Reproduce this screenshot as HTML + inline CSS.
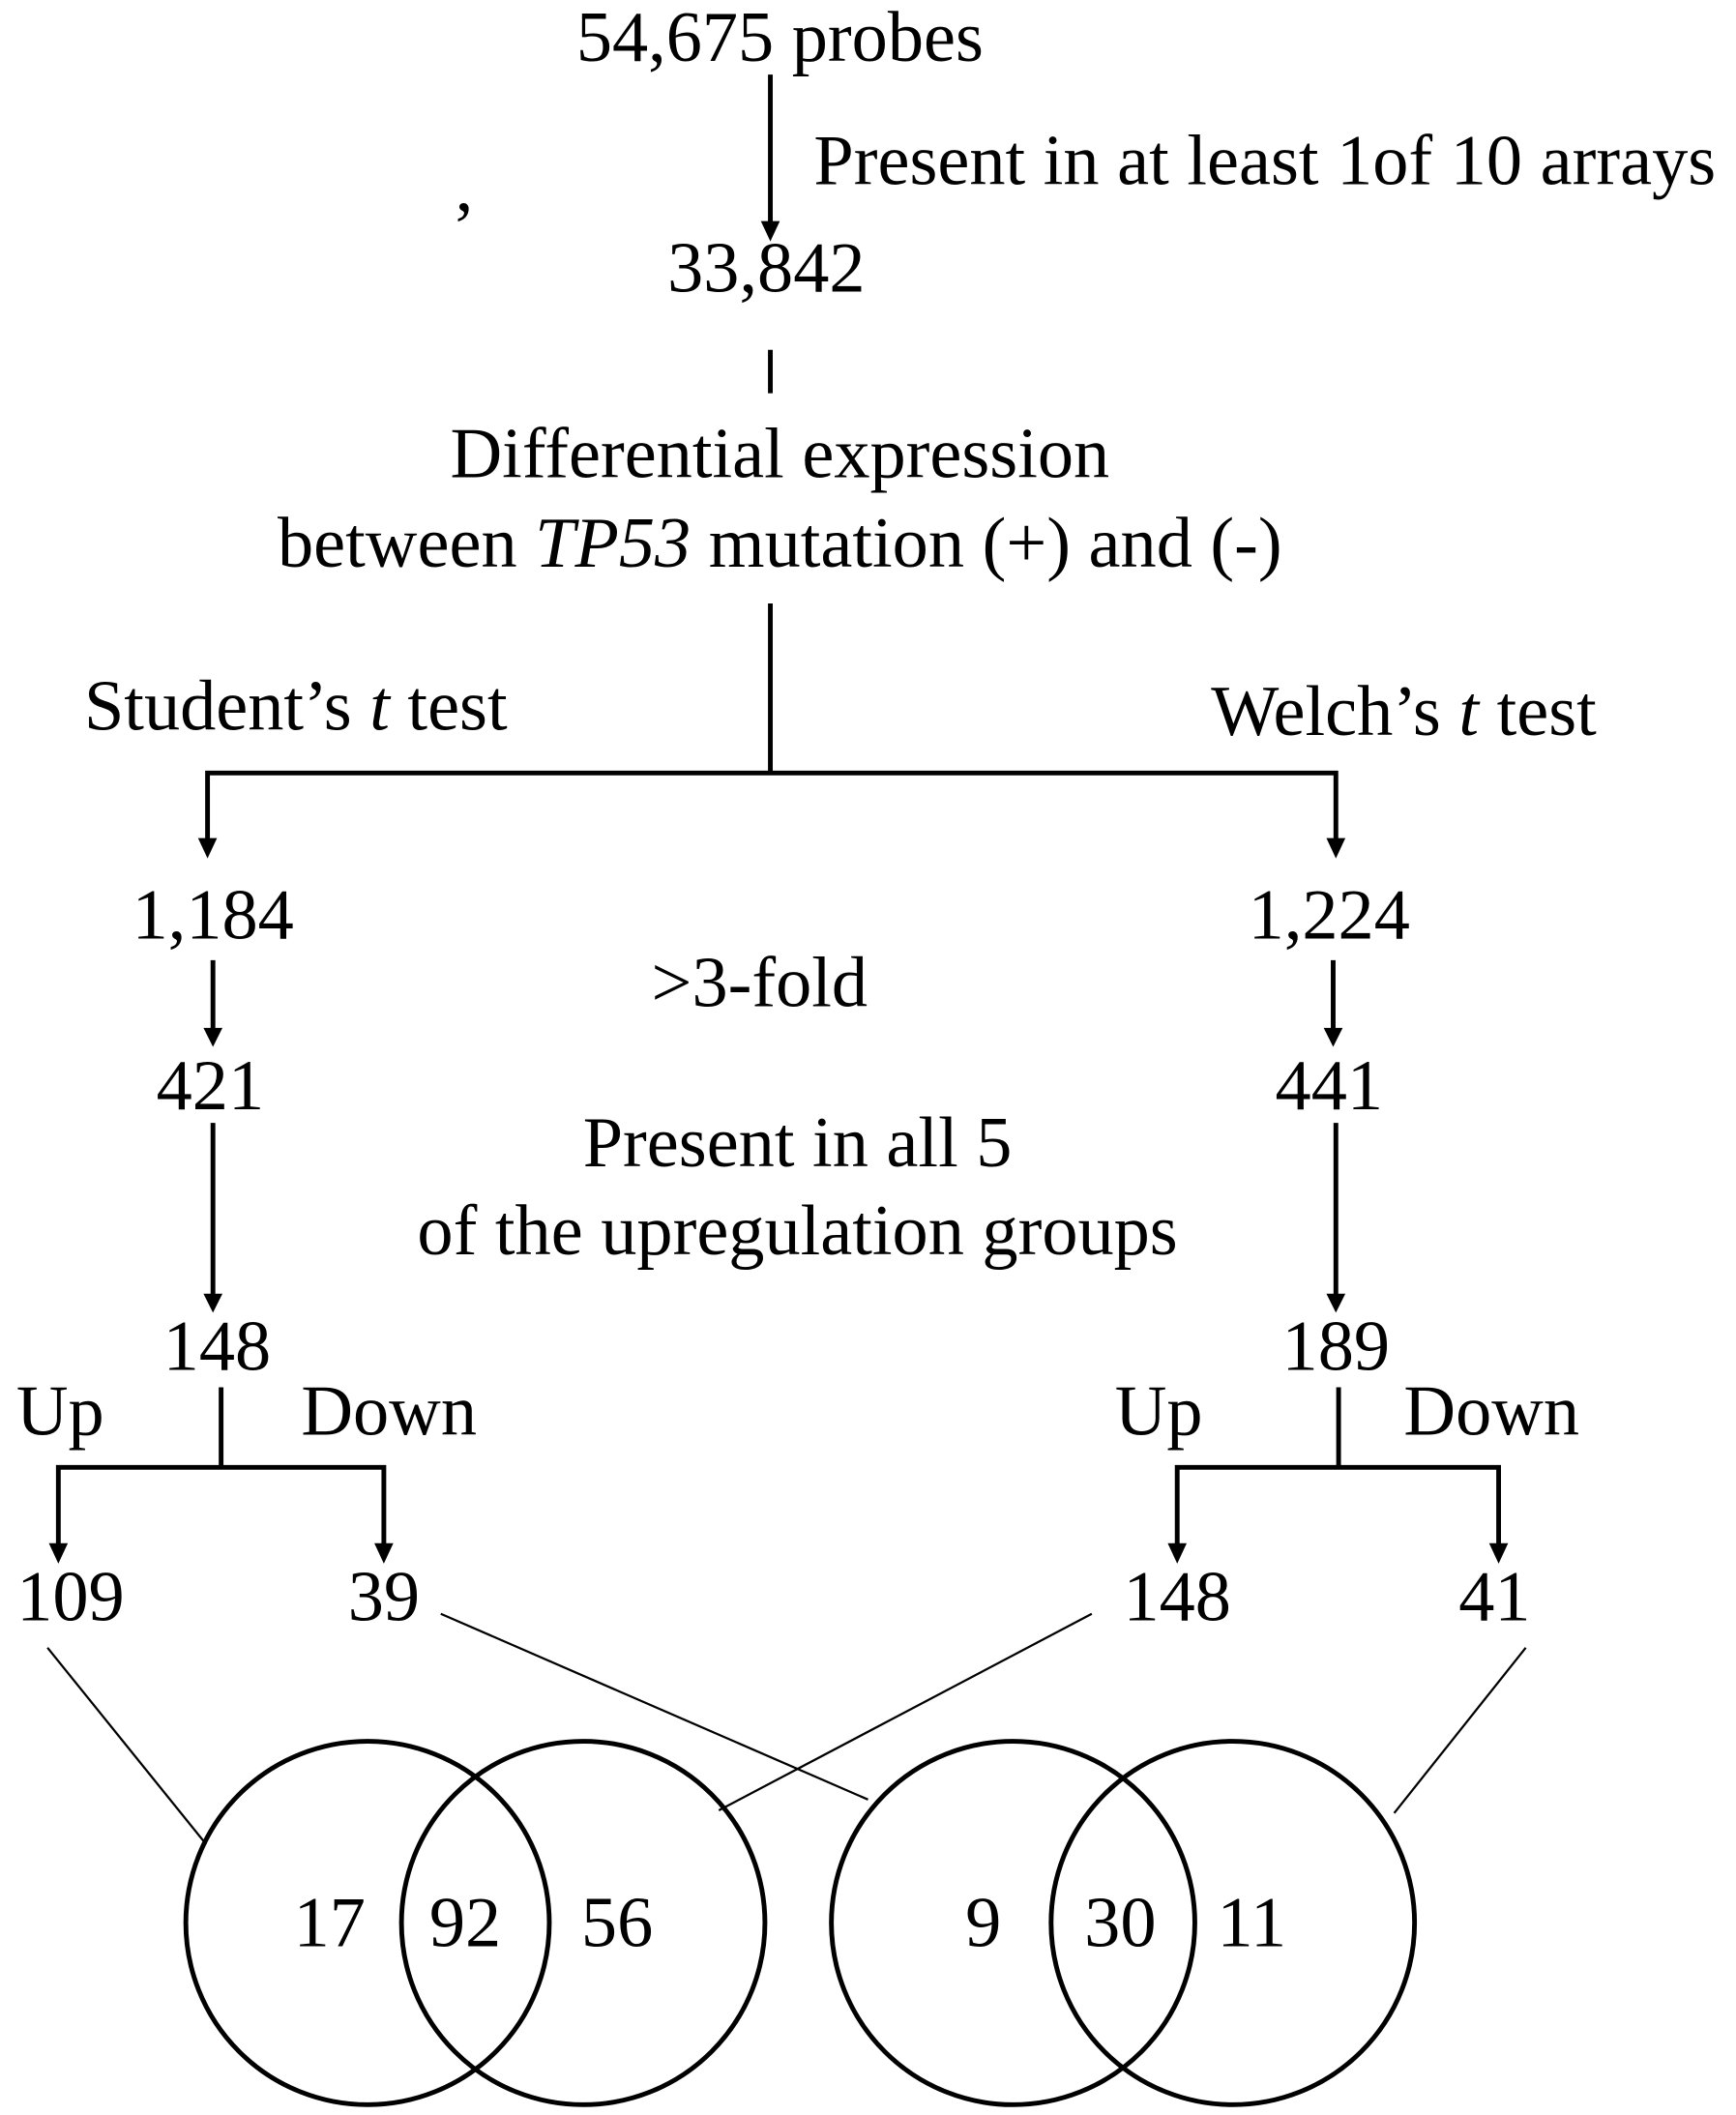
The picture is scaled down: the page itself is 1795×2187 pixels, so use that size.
<!DOCTYPE html>
<html><head><meta charset="utf-8"><style>
html,body{margin:0;padding:0;background:#fff;}
svg{display:block;}
text{font-family:"Liberation Serif",serif;font-size:53px;fill:#000;}
</style></head><body>
<svg width="1795" height="2187" viewBox="0 0 1280 1559.6" xmlns="http://www.w3.org/2000/svg">
<g stroke="#000" stroke-width="3.5" fill="none">
<line x1="568" y1="55" x2="568" y2="165"/>
<line x1="568" y1="258" x2="568" y2="290"/>
<line x1="568" y1="445" x2="568" y2="570"/>
<polyline points="153,625 153,570 985,570 985,625"/>
<line x1="157" y1="708" x2="157" y2="762"/>
<line x1="983" y1="708" x2="983" y2="762"/>
<line x1="157" y1="828" x2="157" y2="958"/>
<line x1="985" y1="828" x2="985" y2="958"/>
<line x1="163" y1="1023" x2="163" y2="1082"/>
<polyline points="43,1142 43,1082 283,1082 283,1142"/>
<line x1="987" y1="1023" x2="987" y2="1082"/>
<polyline points="868,1142 868,1082 1105,1082 1105,1142"/>
<circle cx="271" cy="1418" r="134"/>
<circle cx="430" cy="1418" r="134"/>
<circle cx="747" cy="1418" r="134"/>
<circle cx="909" cy="1418" r="134"/>
</g>
<g stroke="#000" stroke-width="1.6">
<line x1="35" y1="1215" x2="152" y2="1360"/>
<line x1="325" y1="1190" x2="640" y2="1327"/>
<line x1="805" y1="1190" x2="530" y2="1335"/>
<line x1="1125" y1="1215" x2="1028" y2="1337"/>
</g>
<g fill="#000">
<polygon points="561,163 575,163 568,178"/>
<polygon points="146,618 160,618 153,633"/>
<polygon points="978,618 992,618 985,633"/>
<polygon points="150,758 164,758 157,772"/>
<polygon points="976,758 990,758 983,772"/>
<polygon points="150,954 164,954 157,968"/>
<polygon points="978,954 992,954 985,968"/>
<polygon points="36,1138 50,1138 43,1153"/>
<polygon points="276,1138 290,1138 283,1153"/>
<polygon points="861,1138 875,1138 868,1153"/>
<polygon points="1098,1138 1112,1138 1105,1153"/>
</g>
<text x="575" y="45" text-anchor="middle">54,675 probes</text>
<text x="600" y="136">Present in at least 1of 10 arrays</text>
<text x="333" y="185" font-size="34">’</text>
<text x="565" y="215" text-anchor="middle">33,842</text>
<text x="575" y="352" text-anchor="middle">Differential expression</text>
<text x="575" y="418" text-anchor="middle">between <tspan font-style="italic">TP53</tspan> mutation (+) and (-)</text>
<text x="62" y="538">Student’s <tspan font-style="italic">t</tspan> test</text>
<text x="893" y="542">Welch’s <tspan font-style="italic">t</tspan> test</text>
<text x="157" y="692" text-anchor="middle">1,184</text>
<text x="980" y="692" text-anchor="middle">1,224</text>
<text x="560" y="742" text-anchor="middle">&gt;3-fold</text>
<text x="155" y="818" text-anchor="middle">421</text>
<text x="980" y="818" text-anchor="middle">441</text>
<text x="588" y="860" text-anchor="middle">Present in all 5</text>
<text x="588" y="925" text-anchor="middle">of the upregulation groups</text>
<text x="160" y="1010" text-anchor="middle">148</text>
<text x="985" y="1010" text-anchor="middle">189</text>
<text x="12" y="1058">Up</text>
<text x="222" y="1058">Down</text>
<text x="822" y="1058">Up</text>
<text x="1035" y="1058">Down</text>
<text x="52" y="1195" text-anchor="middle">109</text>
<text x="283" y="1195" text-anchor="middle">39</text>
<text x="868" y="1195" text-anchor="middle">148</text>
<text x="1102" y="1195" text-anchor="middle">41</text>
<text x="243" y="1435" text-anchor="middle">17</text>
<text x="343" y="1435" text-anchor="middle">92</text>
<text x="455" y="1435" text-anchor="middle">56</text>
<text x="725" y="1435" text-anchor="middle">9</text>
<text x="826" y="1435" text-anchor="middle">30</text>
<text x="923" y="1435" text-anchor="middle">11</text>
</svg>
</body></html>
